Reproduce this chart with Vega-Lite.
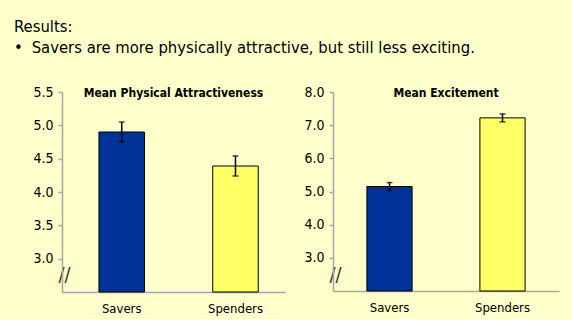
{
  "$schema": "https://vega.github.io/schema/vega-lite/v6.json",
  "background": "#FFFFCC",
  "padding": {"left": 14, "top": 19, "right": 13, "bottom": 4},
  "title": {
    "text": "Results:",
    "subtitle": "•\u2002\u200aSavers are more physically attractive, but still less exciting.",
    "anchor": "start",
    "frame": "bounds",
    "font": "DejaVu Sans Condensed",
    "fontSize": 16.5,
    "fontWeight": "normal",
    "color": "#000000",
    "subtitleFont": "DejaVu Sans Condensed",
    "subtitleFontSize": 16.5,
    "subtitleColor": "#000000",
    "subtitlePadding": 4,
    "offset": 29
  },
  "spacing": 48,
  "bounds": "flush",
  "hconcat": [
    {
      "width": 223,
      "height": 200,
      "title": {"text": "Mean Physical Attractiveness", "offset": -15},
      "data": {"values": [
        {"group": "Savers", "mean": 4.9, "lo": 4.75, "hi": 5.05},
        {"group": "Spenders", "mean": 4.39, "lo": 4.24, "hi": 4.54}
      ]},
      "encoding": {
        "x": {"field": "group", "type": "nominal", "title": null,
              "scale": {"paddingInner": 0.6, "paddingOuter": 0.28, "align": 0.58},
              "axis": {"labelAngle": 0, "ticks": false, "labelPadding": 10}}
      },
      "layer": [
        {
          "mark": {"type": "bar", "stroke": "#000000", "strokeWidth": 1},
          "encoding": {
            "y": {"field": "mean", "type": "quantitative", "title": null,
                  "scale": {"domain": [2.5, 5.5], "zero": false, "nice": false},
                  "axis": {
                    "values": [2.76, 3, 3.5, 4, 4.5, 5, 5.5],
                    "labelExpr": "datum.value < 2.9 ? '//' : format(datum.value, '.1f')",
                    "labelOverlap": false,
                    "minExtent": 48,
                    "tickOpacity": {"condition": {"test": "datum.value < 2.9", "value": 0}, "value": 1},
                    "labelAlign": {"condition": {"test": "datum.value < 2.9", "value": "center"}, "value": "right"},
                    "labelPadding": {"condition": {"test": "datum.value < 2.9", "value": -6}, "value": 5},
                    "labelFontSize": {"condition": {"test": "datum.value < 2.9", "value": 20}, "value": 14},
                    "labelColor": {"condition": {"test": "datum.value < 2.9", "value": "#333333"}, "value": "#000000"}
                  }},
            "y2": {"datum": 2.5},
            "color": {"field": "group", "type": "nominal", "legend": null,
                      "scale": {"domain": ["Savers", "Spenders"], "range": ["#003399", "#FFFF66"]}}
          }
        },
        {
          "mark": {"type": "rule", "color": "#000000", "strokeWidth": 1.5},
          "encoding": {
            "y": {"field": "lo", "type": "quantitative", "title": null,
                  "axis": {
                    "values": [2.76, 3, 3.5, 4, 4.5, 5, 5.5],
                    "labelExpr": "datum.value < 2.9 ? '//' : format(datum.value, '.1f')",
                    "labelOverlap": false,
                    "minExtent": 48,
                    "tickOpacity": {"condition": {"test": "datum.value < 2.9", "value": 0}, "value": 1},
                    "labelAlign": {"condition": {"test": "datum.value < 2.9", "value": "center"}, "value": "right"},
                    "labelPadding": {"condition": {"test": "datum.value < 2.9", "value": -6}, "value": 5},
                    "labelFontSize": {"condition": {"test": "datum.value < 2.9", "value": 20}, "value": 14},
                    "labelColor": {"condition": {"test": "datum.value < 2.9", "value": "#333333"}, "value": "#000000"}
                  }},
            "y2": {"field": "hi"}
          }
        },
        {
          "mark": {"type": "tick", "color": "#000000", "thickness": 1.5, "size": 6},
          "encoding": {
            "y": {"field": "lo", "type": "quantitative", "title": null,
                  "axis": {
                    "values": [2.76, 3, 3.5, 4, 4.5, 5, 5.5],
                    "labelExpr": "datum.value < 2.9 ? '//' : format(datum.value, '.1f')",
                    "labelOverlap": false,
                    "minExtent": 48,
                    "tickOpacity": {"condition": {"test": "datum.value < 2.9", "value": 0}, "value": 1},
                    "labelAlign": {"condition": {"test": "datum.value < 2.9", "value": "center"}, "value": "right"},
                    "labelPadding": {"condition": {"test": "datum.value < 2.9", "value": -6}, "value": 5},
                    "labelFontSize": {"condition": {"test": "datum.value < 2.9", "value": 20}, "value": 14},
                    "labelColor": {"condition": {"test": "datum.value < 2.9", "value": "#333333"}, "value": "#000000"}
                  }}
          }
        },
        {
          "mark": {"type": "tick", "color": "#000000", "thickness": 1.5, "size": 6},
          "encoding": {
            "y": {"field": "hi", "type": "quantitative", "title": null,
                  "axis": {
                    "values": [2.76, 3, 3.5, 4, 4.5, 5, 5.5],
                    "labelExpr": "datum.value < 2.9 ? '//' : format(datum.value, '.1f')",
                    "labelOverlap": false,
                    "minExtent": 48,
                    "tickOpacity": {"condition": {"test": "datum.value < 2.9", "value": 0}, "value": 1},
                    "labelAlign": {"condition": {"test": "datum.value < 2.9", "value": "center"}, "value": "right"},
                    "labelPadding": {"condition": {"test": "datum.value < 2.9", "value": -6}, "value": 5},
                    "labelFontSize": {"condition": {"test": "datum.value < 2.9", "value": 20}, "value": 14},
                    "labelColor": {"condition": {"test": "datum.value < 2.9", "value": "#333333"}, "value": "#000000"}
                  }}
          }
        }
      ]
    },
    {
      "width": 226,
      "height": 199,
      "title": {"text": "Mean Excitement", "offset": -15},
      "data": {"values": [
        {"group": "Savers", "mean": 5.15, "lo": 5.03, "hi": 5.27},
        {"group": "Spenders", "mean": 7.22, "lo": 7.1, "hi": 7.34}
      ]},
      "encoding": {
        "x": {"field": "group", "type": "nominal", "title": null,
              "scale": {"paddingInner": 0.6, "paddingOuter": 0.3},
              "axis": {"labelAngle": 0, "ticks": false, "labelPadding": 10}}
      },
      "layer": [
        {
          "mark": {"type": "bar", "stroke": "#000000", "strokeWidth": 1},
          "encoding": {
            "y": {"field": "mean", "type": "quantitative", "title": null,
                  "scale": {"domain": [2, 8], "zero": false, "nice": false},
                  "axis": {
                    "values": [2.5, 3, 4, 5, 6, 7, 8],
                    "labelExpr": "datum.value < 2.9 ? '//' : format(datum.value, '.1f')",
                    "labelOverlap": false,
                    "tickOpacity": {"condition": {"test": "datum.value < 2.9", "value": 0}, "value": 1},
                    "labelAlign": {"condition": {"test": "datum.value < 2.9", "value": "center"}, "value": "right"},
                    "labelPadding": {"condition": {"test": "datum.value < 2.9", "value": -6}, "value": 5},
                    "labelFontSize": {"condition": {"test": "datum.value < 2.9", "value": 20}, "value": 14},
                    "labelColor": {"condition": {"test": "datum.value < 2.9", "value": "#333333"}, "value": "#000000"}
                  }},
            "y2": {"datum": 2},
            "color": {"field": "group", "type": "nominal", "legend": null,
                      "scale": {"domain": ["Savers", "Spenders"], "range": ["#003399", "#FFFF66"]}}
          }
        },
        {
          "mark": {"type": "rule", "color": "#000000", "strokeWidth": 1.5},
          "encoding": {
            "y": {"field": "lo", "type": "quantitative", "title": null,
                  "axis": {
                    "values": [2.5, 3, 4, 5, 6, 7, 8],
                    "labelExpr": "datum.value < 2.9 ? '//' : format(datum.value, '.1f')",
                    "labelOverlap": false,
                    "tickOpacity": {"condition": {"test": "datum.value < 2.9", "value": 0}, "value": 1},
                    "labelAlign": {"condition": {"test": "datum.value < 2.9", "value": "center"}, "value": "right"},
                    "labelPadding": {"condition": {"test": "datum.value < 2.9", "value": -6}, "value": 5},
                    "labelFontSize": {"condition": {"test": "datum.value < 2.9", "value": 20}, "value": 14},
                    "labelColor": {"condition": {"test": "datum.value < 2.9", "value": "#333333"}, "value": "#000000"}
                  }},
            "y2": {"field": "hi"}
          }
        },
        {
          "mark": {"type": "tick", "color": "#000000", "thickness": 1.5, "size": 6},
          "encoding": {
            "y": {"field": "lo", "type": "quantitative", "title": null,
                  "axis": {
                    "values": [2.5, 3, 4, 5, 6, 7, 8],
                    "labelExpr": "datum.value < 2.9 ? '//' : format(datum.value, '.1f')",
                    "labelOverlap": false,
                    "tickOpacity": {"condition": {"test": "datum.value < 2.9", "value": 0}, "value": 1},
                    "labelAlign": {"condition": {"test": "datum.value < 2.9", "value": "center"}, "value": "right"},
                    "labelPadding": {"condition": {"test": "datum.value < 2.9", "value": -6}, "value": 5},
                    "labelFontSize": {"condition": {"test": "datum.value < 2.9", "value": 20}, "value": 14},
                    "labelColor": {"condition": {"test": "datum.value < 2.9", "value": "#333333"}, "value": "#000000"}
                  }}
          }
        },
        {
          "mark": {"type": "tick", "color": "#000000", "thickness": 1.5, "size": 6},
          "encoding": {
            "y": {"field": "hi", "type": "quantitative", "title": null,
                  "axis": {
                    "values": [2.5, 3, 4, 5, 6, 7, 8],
                    "labelExpr": "datum.value < 2.9 ? '//' : format(datum.value, '.1f')",
                    "labelOverlap": false,
                    "tickOpacity": {"condition": {"test": "datum.value < 2.9", "value": 0}, "value": 1},
                    "labelAlign": {"condition": {"test": "datum.value < 2.9", "value": "center"}, "value": "right"},
                    "labelPadding": {"condition": {"test": "datum.value < 2.9", "value": -6}, "value": 5},
                    "labelFontSize": {"condition": {"test": "datum.value < 2.9", "value": 20}, "value": 14},
                    "labelColor": {"condition": {"test": "datum.value < 2.9", "value": "#333333"}, "value": "#000000"}
                  }}
          }
        }
      ]
    }
  ],
  "resolve": {"scale": {"color": "independent"}},
  "config": {
    "font": "DejaVu Sans Condensed",
    "view": {"stroke": null},
    "axis": {
      "domainColor": "#A6A6A6",
      "domainWidth": 1.5,
      "tickColor": "#A6A6A6",
      "tickWidth": 1.5,
      "tickSize": 4,
      "grid": false,
      "labelOverlap": false,
      "labelColor": "#000000",
      "labelFont": "DejaVu Sans Condensed",
      "labelFontSize": 14
    },
    "axisX": {"labelFontSize": 13, "domainColor": "#A6A6A6"},
    "title": {"font": "DejaVu Sans Condensed", "fontSize": 12, "fontWeight": "bold", "color": "#000000", "anchor": "middle"}
  }
}
